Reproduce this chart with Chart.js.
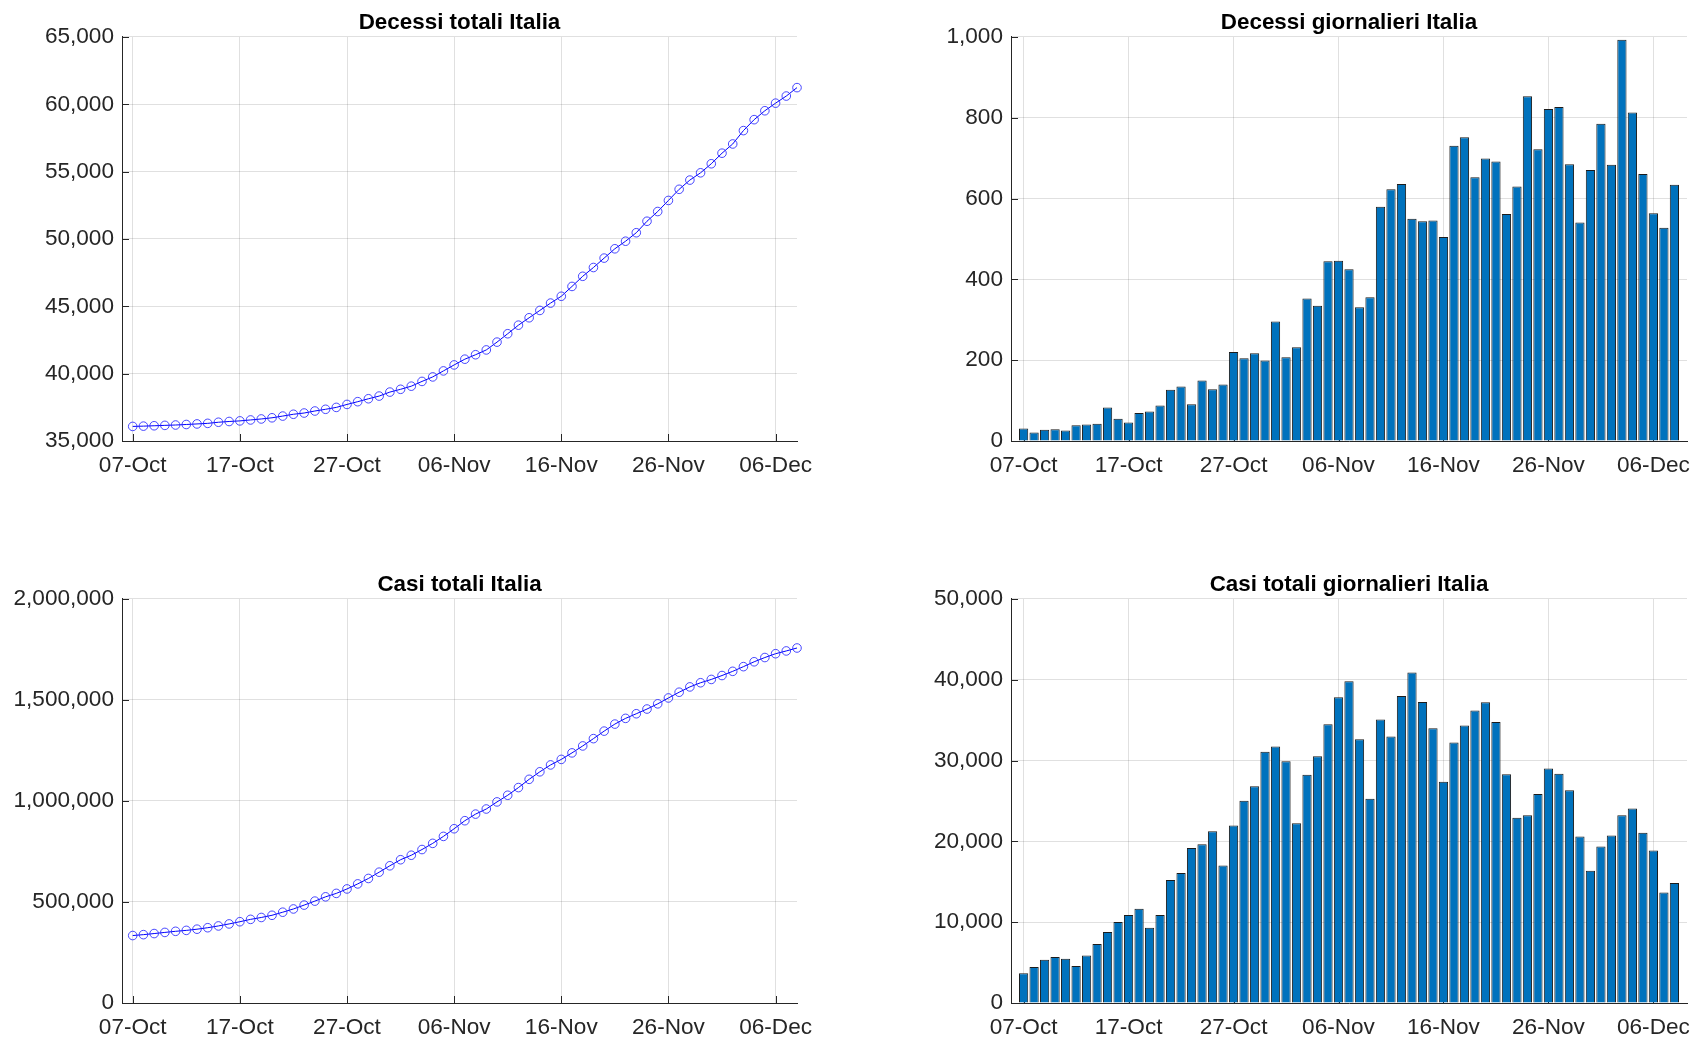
<!DOCTYPE html>
<html>
<head>
<meta charset="utf-8">
<title>Italia - decessi e casi</title>
<script src="https://cdn.jsdelivr.net/npm/chart.js@4.4.0/dist/chart.umd.min.js"></script>
<style>
    html, body { margin: 0; padding: 0; background: #fff; }
    body { width: 1708px; height: 1043px; position: relative; overflow: hidden; }
    canvas { position: absolute; }
    #c-deaths-total  { left: 0;     top: 0; }
    #c-deaths-daily  { left: 900px; top: 0; }
    #c-cases-total   { left: 0;     top: 562px; }
    #c-cases-daily   { left: 900px; top: 562px; }
</style>
</head>
<body>
<canvas id="c-deaths-total" width="860" height="500"></canvas>
<canvas id="c-deaths-daily" width="808" height="500"></canvas>
<canvas id="c-cases-total" width="860" height="481"></canvas>
<canvas id="c-cases-daily" width="808" height="481"></canvas>

<script>
// Days shown on the x axis (07-Oct .. 08-Dec)
const dates = [
    '07-Oct', '08-Oct', '09-Oct', '10-Oct', '11-Oct', '12-Oct', '13-Oct', '14-Oct', '15-Oct', '16-Oct',
    '17-Oct', '18-Oct', '19-Oct', '20-Oct', '21-Oct', '22-Oct', '23-Oct', '24-Oct', '25-Oct', '26-Oct',
    '27-Oct', '28-Oct', '29-Oct', '30-Oct', '31-Oct', '01-Nov', '02-Nov', '03-Nov', '04-Nov', '05-Nov',
    '06-Nov', '07-Nov', '08-Nov', '09-Nov', '10-Nov', '11-Nov', '12-Nov', '13-Nov', '14-Nov', '15-Nov',
    '16-Nov', '17-Nov', '18-Nov', '19-Nov', '20-Nov', '21-Nov', '22-Nov', '23-Nov', '24-Nov', '25-Nov',
    '26-Nov', '27-Nov', '28-Nov', '29-Nov', '30-Nov', '01-Dec', '02-Dec', '03-Dec', '04-Dec', '05-Dec',
    '06-Dec', '07-Dec', '08-Dec'
];

// Tick labels on the x axis
const xTickLabels = ['07-Oct', '17-Oct', '27-Oct', '06-Nov', '16-Nov', '26-Nov', '06-Dec'];

// Decessi totali
const deathsTotal = [
    36083, 36104, 36132, 36161, 36187, 36226, 36267, 36310, 36393, 36448,
    36494, 36563, 36636, 36724, 36851, 36986, 37077, 37227, 37355, 37495,
    37715, 37920, 38137, 38336, 38632, 38839, 39071, 39424, 39759, 40204,
    40650, 41075, 41406, 41762, 42342, 42965, 43601, 44151, 44695, 45241,
    45746, 46477, 47229, 47882, 48581, 49273, 49835, 50465, 51318, 52040,
    52862, 53689, 54374, 54915, 55586, 56371, 57055, 58048, 58861, 59522,
    60086, 60614, 61240
];

// Decessi giornalieri
const deathsDaily = [
    31, 21, 28, 29, 26, 39, 41, 43, 83, 55,
    46, 69, 73, 88, 127, 135, 91, 150, 128, 140,
    220, 205, 217, 199, 296, 207, 232, 353, 335, 445,
    446, 425, 331, 356, 580, 623, 636, 550, 544, 546,
    505, 731, 752, 653, 699, 692, 562, 630, 853, 722,
    822, 827, 685, 541, 671, 785, 684, 993, 813, 661,
    564, 528, 634
];

// Casi totali
const casesTotal = [
    333940, 338390, 343750, 349440, 354920, 359500, 365390, 372690, 381470, 391480,
    402360, 414030, 423350, 434230, 449440, 465520, 484690, 504350, 525620, 542640,
    564610, 589630, 616460, 647540, 679280, 709210, 731470, 759710, 790250, 824750,
    862590, 902410, 935060, 960330, 995410, 1028390, 1066390, 1107280, 1144540, 1178540,
    1205910, 1238140, 1272480, 1308670, 1345890, 1380680, 1409000, 1431920, 1455170, 1481020,
    1510040, 1538400, 1564740, 1585350, 1601710, 1621080, 1641810, 1665060, 1689130, 1710190,
    1729070, 1742760, 1757390
];

// Casi totali giornalieri
const casesDaily = [
    3670, 4450, 5360, 5690, 5480, 4580, 5890, 7300, 8780, 10010,
    10880, 11670, 9320, 10880, 15210, 16080, 19170, 19660, 21270, 17020,
    21970, 25020, 26830, 31080, 31740, 29930, 22260, 28240, 30540, 34500,
    37840, 39820, 32650, 25270, 35080, 32980, 38000, 40890, 37260, 34000,
    27370, 32230, 34340, 36190, 37220, 34790, 28320, 22920, 23250, 25850,
    29020, 28360, 26340, 20610, 16360, 19370, 20730, 23250, 24070, 21060,
    18880, 13690, 14840
];

const FONT = "'Liberation Sans', Arial, Helvetica, sans-serif";
const AXIS_COLOR = '#262626';
const GRID_COLOR = 'rgba(38, 38, 38, 0.14)';

/**
 * Inward tick marks (MATLAB style), drawn behind the data
 */
const inwardTicks = {
    id: 'inwardTicks',
    beforeDatasetsDraw: function(chart) {
        const ctx = chart.ctx;
        const area = chart.chartArea;
        const x = chart.scales.x;
        const y = chart.scales.y;
        const len = 7;

        ctx.save();
        ctx.strokeStyle = AXIS_COLOR;
        ctx.lineWidth = 1;
        ctx.beginPath();
        x.ticks.forEach(function(t) {
            const px = Math.round(x.getPixelForValue(t.value)) + 0.5;
            ctx.moveTo(px, area.bottom);
            ctx.lineTo(px, area.bottom - len);
        });
        y.ticks.forEach(function(t) {
            const py = Math.round(y.getPixelForValue(t.value)) + 0.5;
            ctx.moveTo(area.left, py);
            ctx.lineTo(area.left + len, py);
        });
        ctx.stroke();
        ctx.restore();
    }
};

const ItaliaCharts = {

    init: function() {
        Chart.defaults.font.family = FONT;
        Chart.defaults.color = AXIS_COLOR;
        Chart.defaults.animation = false;

        this.createLineChart('c-deaths-total', 'Decessi totali Italia', deathsTotal,
            { min: 35000, max: 65000, step: 5000, yWidth: 122, right: 63, bottom: 19 });

        this.createBarChart('c-deaths-daily', 'Decessi giornalieri Italia', deathsDaily,
            { min: 0, max: 1000, step: 200, yWidth: 111, right: 21, bottom: 19 });

        this.createLineChart('c-cases-total', 'Casi totali Italia', casesTotal,
            { min: 0, max: 2000000, step: 500000, yWidth: 122, right: 63, bottom: 0 });

        this.createBarChart('c-cases-daily', 'Casi totali giornalieri Italia', casesDaily,
            { min: 0, max: 50000, step: 10000, yWidth: 111, right: 21, bottom: 0 });
    },

    /**
     * Shared options for all four panels
     */
    baseOptions: function(title, yCfg, xMin, xMax) {
        const tickIdx = xTickLabels.map(function(l) { return dates.indexOf(l); });

        return {
            responsive: false,
            devicePixelRatio: 1,
            layout: {
                padding: { left: 0, top: 0, right: yCfg.right, bottom: yCfg.bottom }
            },
            plugins: {
                legend: { display: false },
                tooltip: { enabled: false },
                title: {
                    display: true,
                    text: title,
                    fullSize: false,
                    color: '#000',
                    font: { size: 22.4, weight: 'bold', lineHeight: 1.2 },
                    padding: { top: 9, bottom: 1.1 }
                }
            },
            scales: {
                x: {
                    type: 'linear',
                    min: xMin,
                    max: xMax,
                    offset: false,
                    afterBuildTicks: function(scale) {
                        scale.ticks = tickIdx.map(function(v) { return { value: v }; });
                    },
                    afterFit: function(scale) {
                        scale.height = 40;
                    },
                    ticks: {
                        autoSkip: false,
                        maxRotation: 0,
                        padding: 11,
                        font: { size: 22.6 },
                        color: AXIS_COLOR,
                        callback: function(v) { return dates[v]; }
                    },
                    grid: { color: GRID_COLOR, drawTicks: false, offset: false },
                    border: { color: AXIS_COLOR, width: 1 }
                },
                y: {
                    min: yCfg.min,
                    max: yCfg.max,
                    afterFit: function(scale) {
                        scale.width = yCfg.yWidth;
                    },
                    ticks: {
                        stepSize: yCfg.step,
                        padding: 8,
                        font: { size: 22.6 },
                        color: AXIS_COLOR,
                        callback: function(v) { return v.toLocaleString('en-US'); }
                    },
                    grid: { color: GRID_COLOR, drawTicks: false },
                    border: { color: AXIS_COLOR, width: 1 }
                }
            }
        };
    },

    /**
     * Cumulative series: blue line with open circles
     */
    createLineChart: function(id, title, values, yCfg) {
        const canvas = document.getElementById(id);

        new Chart(canvas, {
            type: 'line',
            data: {
                datasets: [{
                    data: values.map(function(v, i) { return { x: i, y: v }; }),
                    borderColor: '#0000ff',
                    borderWidth: 1,
                    pointRadius: 4.3,
                    pointBorderWidth: 1,
                    pointBorderColor: 'rgba(40, 40, 255, 0.85)',
                    pointBackgroundColor: 'rgba(0, 0, 0, 0)',
                    tension: 0,
                    clip: false
                }]
            },
            options: this.baseOptions(title, yCfg, -1, 62),
            plugins: [inwardTicks]
        });
    },

    /**
     * Daily series: blue bars with dark edge
     */
    createBarChart: function(id, title, values, yCfg) {
        const canvas = document.getElementById(id);

        new Chart(canvas, {
            type: 'bar',
            data: {
                datasets: [{
                    data: values.map(function(v, i) { return { x: i, y: v }; }),
                    backgroundColor: '#0072bd',
                    borderColor: '#1c1c1c',
                    borderWidth: 1,
                    borderSkipped: 'bottom',
                    barPercentage: 0.88,
                    categoryPercentage: 1
                }]
            },
            options: this.baseOptions(title, yCfg, -1.2, 63.2),
            plugins: [inwardTicks]
        });
    }
};

ItaliaCharts.init();
</script>
</body>
</html>
